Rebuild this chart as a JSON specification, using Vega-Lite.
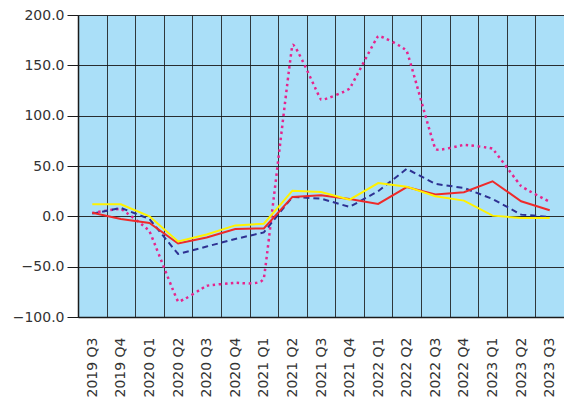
{
  "$schema": "https://vega.github.io/schema/vega-lite/v6.json",
  "width": 486,
  "height": 302,
  "autosize": {"type": "none"},
  "padding": {"left": 78, "top": 15, "right": 0, "bottom": 90},
  "background": "white",
  "view": {"fill": "#aadff8", "stroke": null},
  "config": {
    "font": "DejaVu Sans",
    "axis": {"labelFont": "DejaVu Sans", "labelFontSize": 14, "labelColor": "#333333"}
  },
  "data": {
    "values": [
      {"q": "2019 Q3", "A": 3.5, "B": 2.7, "C": 3.3, "D": 12},
      {"q": "2019 Q4", "A": -2.6, "B": 8.3, "C": 7.4, "D": 12},
      {"q": "2020 Q1", "A": -6.6, "B": -2.6, "C": -15, "D": 0},
      {"q": "2020 Q2", "A": -27, "B": -37.4, "C": -84.5, "D": -25},
      {"q": "2020 Q3", "A": -21, "B": -30, "C": -69, "D": -18},
      {"q": "2020 Q4", "A": -12.5, "B": -22.5, "C": -66, "D": -9},
      {"q": "2021 Q1", "A": -12, "B": -16, "C": -61.5, "D": -7.3},
      {"q": "2021 Q2", "A": 19.3, "B": 19.3, "C": 170, "D": 25.5},
      {"q": "2021 Q3", "A": 21, "B": 17.6, "C": 116, "D": 24.2},
      {"q": "2021 Q4", "A": 17.3, "B": 9.3, "C": 127, "D": 16.6},
      {"q": "2022 Q1", "A": 12.3, "B": 25, "C": 179, "D": 33},
      {"q": "2022 Q2", "A": 29, "B": 47.2, "C": 164, "D": 29.5},
      {"q": "2022 Q3", "A": 21.6, "B": 32.2, "C": 67, "D": 19.9},
      {"q": "2022 Q4", "A": 23.9, "B": 28.2, "C": 71, "D": 15.6},
      {"q": "2023 Q1", "A": 34.8, "B": 17.3, "C": 67, "D": 0.7},
      {"q": "2023 Q2", "A": 15, "B": 1.7, "C": 30, "D": -1.6},
      {"q": "2023 Q3", "A": 6, "B": -0.6, "C": 14.3, "D": -1.6}
    ]
  },
  "encoding": {
    "x": {
      "field": "q", "type": "ordinal", "sort": null,
      "scale": {"type": "band", "paddingInner": 0, "paddingOuter": 0},
      "axis": {
        "title": null, "labelAngle": -90, "ticks": false, "labelPadding": 20,
        "tickBand": "extent", "grid": true, "gridColor": "#1a1a1a", "gridWidth": 1, "gridOpacity": 0.85,
        "domainColor": "#1a1a1a", "domainWidth": 1.5
      }
    }
  },
  "layer": [
    {
      "mark": {"type": "line", "color": "#e6248c", "strokeWidth": 2.5, "strokeDash": [2.5, 3.5], "interpolate": "cardinal", "tension": 0.8},
      "encoding": {
        "y": {
          "field": "C", "type": "quantitative",
          "scale": {"domain": [-100, 200], "nice": false},
          "axis": {
            "title": null, "values": [-100, -50, 0, 50, 100, 150, 200], "format": ".1f",
            "tickSize": 11, "tickColor": "#1a1a1a", "labelPadding": 3,
            "grid": true, "gridColor": "#1a1a1a", "gridWidth": 1, "gridOpacity": 0.9,
            "domainColor": "#1a1a1a", "domainWidth": 1.5
          }
        }
      }
    },
    {
      "mark": {"type": "line", "color": "#2e3192", "strokeWidth": 2, "strokeDash": [6, 4]},
      "encoding": {"y": {"field": "B", "type": "quantitative"}}
    },
    {
      "mark": {"type": "line", "color": "#ee2a2a", "strokeWidth": 2},
      "encoding": {"y": {"field": "A", "type": "quantitative"}}
    },
    {
      "mark": {"type": "line", "color": "#fff200", "strokeWidth": 2},
      "encoding": {"y": {"field": "D", "type": "quantitative"}}
    }
  ]
}
